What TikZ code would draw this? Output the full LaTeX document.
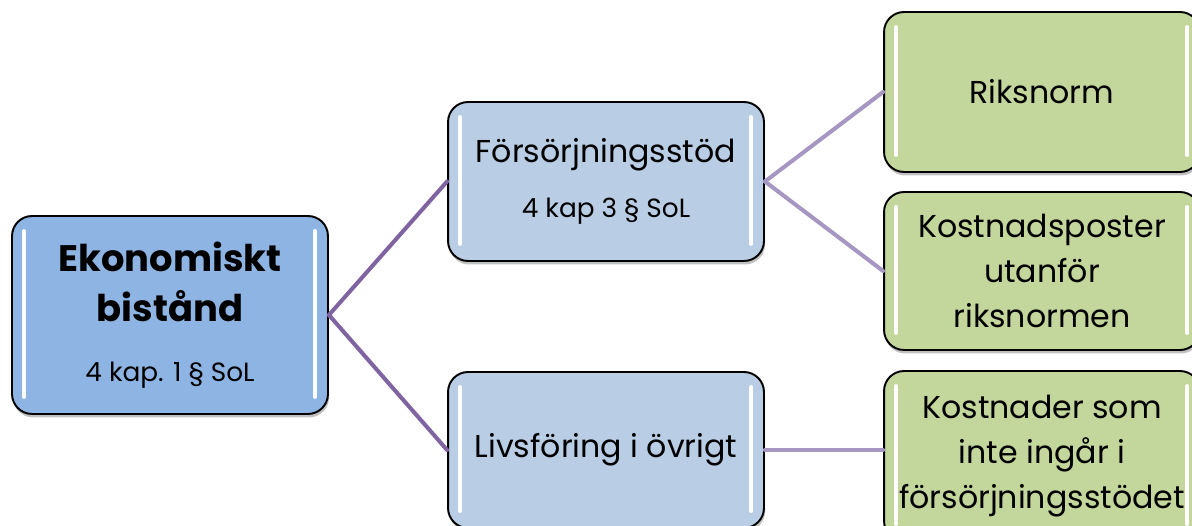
\documentclass[tikz,border=0pt]{standalone}
\usepackage{fontspec}
\setmainfont{Poppins}
\usepackage{xcolor}
\definecolor{rootblue}{HTML}{8EB4E3}
\definecolor{paleblue}{HTML}{B9CDE5}
\definecolor{leafgreen}{HTML}{C3D69B}
\definecolor{linkdark}{HTML}{8064A2}
\definecolor{linklight}{HTML}{A597C2}
\definecolor{ink}{HTML}{000000}
\usetikzlibrary{shadows}

\newcommand{\subsize}{\fontsize{15}{18}\selectfont\mdseries}

\tikzset{
  box/.style={draw=ink, line width=1.1pt, rounded corners=0.4cm, align=center,
    minimum width=6.32cm, inner sep=0pt,
    drop shadow={shadow xshift=0.6pt, shadow yshift=-2pt, opacity=0.35, fill=black!70},
    path picture={
      \draw[white, line width=2.2pt, line cap=round]
        ([xshift=0.24cm, yshift=-0.3cm]path picture bounding box.north west) --
        ([xshift=0.24cm, yshift=0.34cm]path picture bounding box.south west);
      \draw[white, line width=2.2pt, line cap=round]
        ([xshift=-0.26cm, yshift=-0.3cm]path picture bounding box.north east) --
        ([xshift=-0.26cm, yshift=0.34cm]path picture bounding box.south east);
    }},
  linkdark/.style={draw=linkdark, line width=2.3pt, line cap=round},
  linklight/.style={draw=linklight, line width=2.3pt, line cap=round},
  titlefont/.style={font=\fontsize{21}{29}\selectfont\bfseries},
}

\begin{document}
\begin{tikzpicture}[x=0.02cm, y=-0.02cm, font=\fontsize{18}{25.5}\selectfont]
  % pixel grid of the original, y pointing down
  \useasboundingbox (0,0) rectangle (1192,526);

  % ---------- level 1
  \node[box, titlefont, fill=rootblue, minimum height=3.96cm] (ekon) at (170,315)
    {Ekonomiskt\\bistånd\\[5pt]\subsize 4 kap. 1 § SoL};

  % ---------- level 2
  \node[box, fill=paleblue, minimum height=3.18cm] (fors) at (606,181.5)
    {Försörjningsstöd\\[6pt]\subsize 4 kap 3 § SoL};
  \node[box, fill=paleblue, minimum height=3.12cm] (livs) at (606,450)
    {Livsföring i övrigt};

  % ---------- level 3
  \node[box, fill=leafgreen, minimum height=3.2cm] (riks) at (1042,92)
    {Riksnorm};
  \node[box, fill=leafgreen, minimum height=3.16cm] (kpost) at (1042,271)
    {Kostnadsposter\\utanför\\riksnormen};
  \node[box, fill=leafgreen, minimum height=3.4cm] (kinte) at (1042,456)
    {Kostnader som\\inte ingår i\\försörjningsstödet};

  % ---------- connectors
  \draw[linkdark] (ekon.east) -- (fors.west);
  \draw[linkdark] (ekon.east) -- (livs.west);
  \draw[linklight] (fors.east) -- (riks.west);
  \draw[linklight] (fors.east) -- (kpost.west);
  \draw[linklight] (livs.east) -- (livs.east -| kinte.west);
\end{tikzpicture}
\end{document}
